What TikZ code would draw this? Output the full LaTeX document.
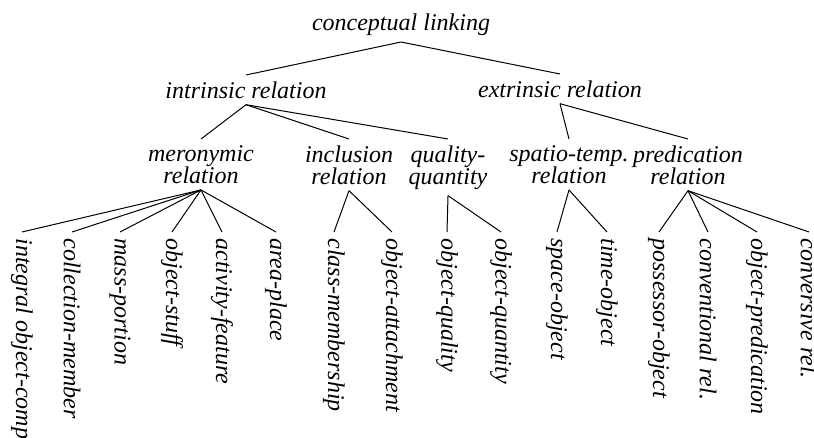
\documentclass[tikz,border=0pt]{standalone}
\usepackage{fontspec}
\setmainfont{Liberation Serif}
\begin{document}
\begin{tikzpicture}[x=0.5pt,y=-0.5pt,
  every node/.style={font=\fontsize{12}{11}\selectfont\itshape, inner sep=3pt},
  inner/.style={align=center, anchor=north},
  leaf/.style={rotate=-90, anchor=west},
  edge/.style={line width=0.5pt}]
\useasboundingbox (0,0) rectangle (814,438);
% top levels
\node[anchor=south] (root) at (401,42) {conceptual linking};
\node[anchor=north] (intr) at (246,75) {intrinsic relation};
\node[anchor=north] (extr) at (560,74) {extrinsic relation};
% second level
\node[inner] (mer) at (201,139) {meronymic\\relation};
\node[inner] (inc) at (349,139) {inclusion\\relation};
\node[inner] (qua) at (448,139) {quality-\\quantity};
\node[inner] (spa) at (569,139) {spatio-temp.\\relation};
\node[inner] (pre) at (688,139) {predication\\relation};
% leaves
\node[leaf] (l1) at (22,232) {integral object-comp.};
\node[leaf] (l2) at (72,232) {collection-member};
\node[leaf] (l3) at (120,232) {mass-portion};
\node[leaf] (l4) at (172,232) {object-stuff};
\node[leaf] (l5) at (222,232) {activity-feature};
\node[leaf] (l6) at (276,232) {area-place};
\node[leaf] (l7) at (334,232) {class-membership};
\node[leaf] (l8) at (392,232) {object-attachment};
\node[leaf] (l9) at (447,232) {object-quality};
\node[leaf] (l10) at (501,232) {object-quantity};
\node[leaf] (l11) at (557,232) {space-object};
\node[leaf] (l12) at (607,232) {time-object};
\node[leaf] (l13) at (659,232) {possessor-object};
\node[leaf] (l14) at (708,232) {conventional rel.};
\node[leaf] (l15) at (757,232) {object-predication};
\node[leaf] (l16) at (809,232) {conversive rel.};
% edges
\draw[edge] (root.south) -- (intr.north);
\draw[edge] (root.south) -- (extr.north);
\foreach \c in {mer,inc,qua} \draw[edge] (intr.south) -- (\c.north);
\foreach \c in {spa,pre} \draw[edge] (extr.south) -- (\c.north);
\foreach \c in {l1,l2,l3,l4,l5,l6} \draw[edge] (mer.south) -- (\c.west);
\foreach \c in {l7,l8} \draw[edge] (inc.south) -- (\c.west);
\foreach \c in {l9,l10} \draw[edge] (qua.south) -- (\c.west);
\foreach \c in {l11,l12} \draw[edge] (spa.south) -- (\c.west);
\foreach \c in {l13,l14,l15,l16} \draw[edge] (pre.south) -- (\c.west);
\end{tikzpicture}
\end{document}
